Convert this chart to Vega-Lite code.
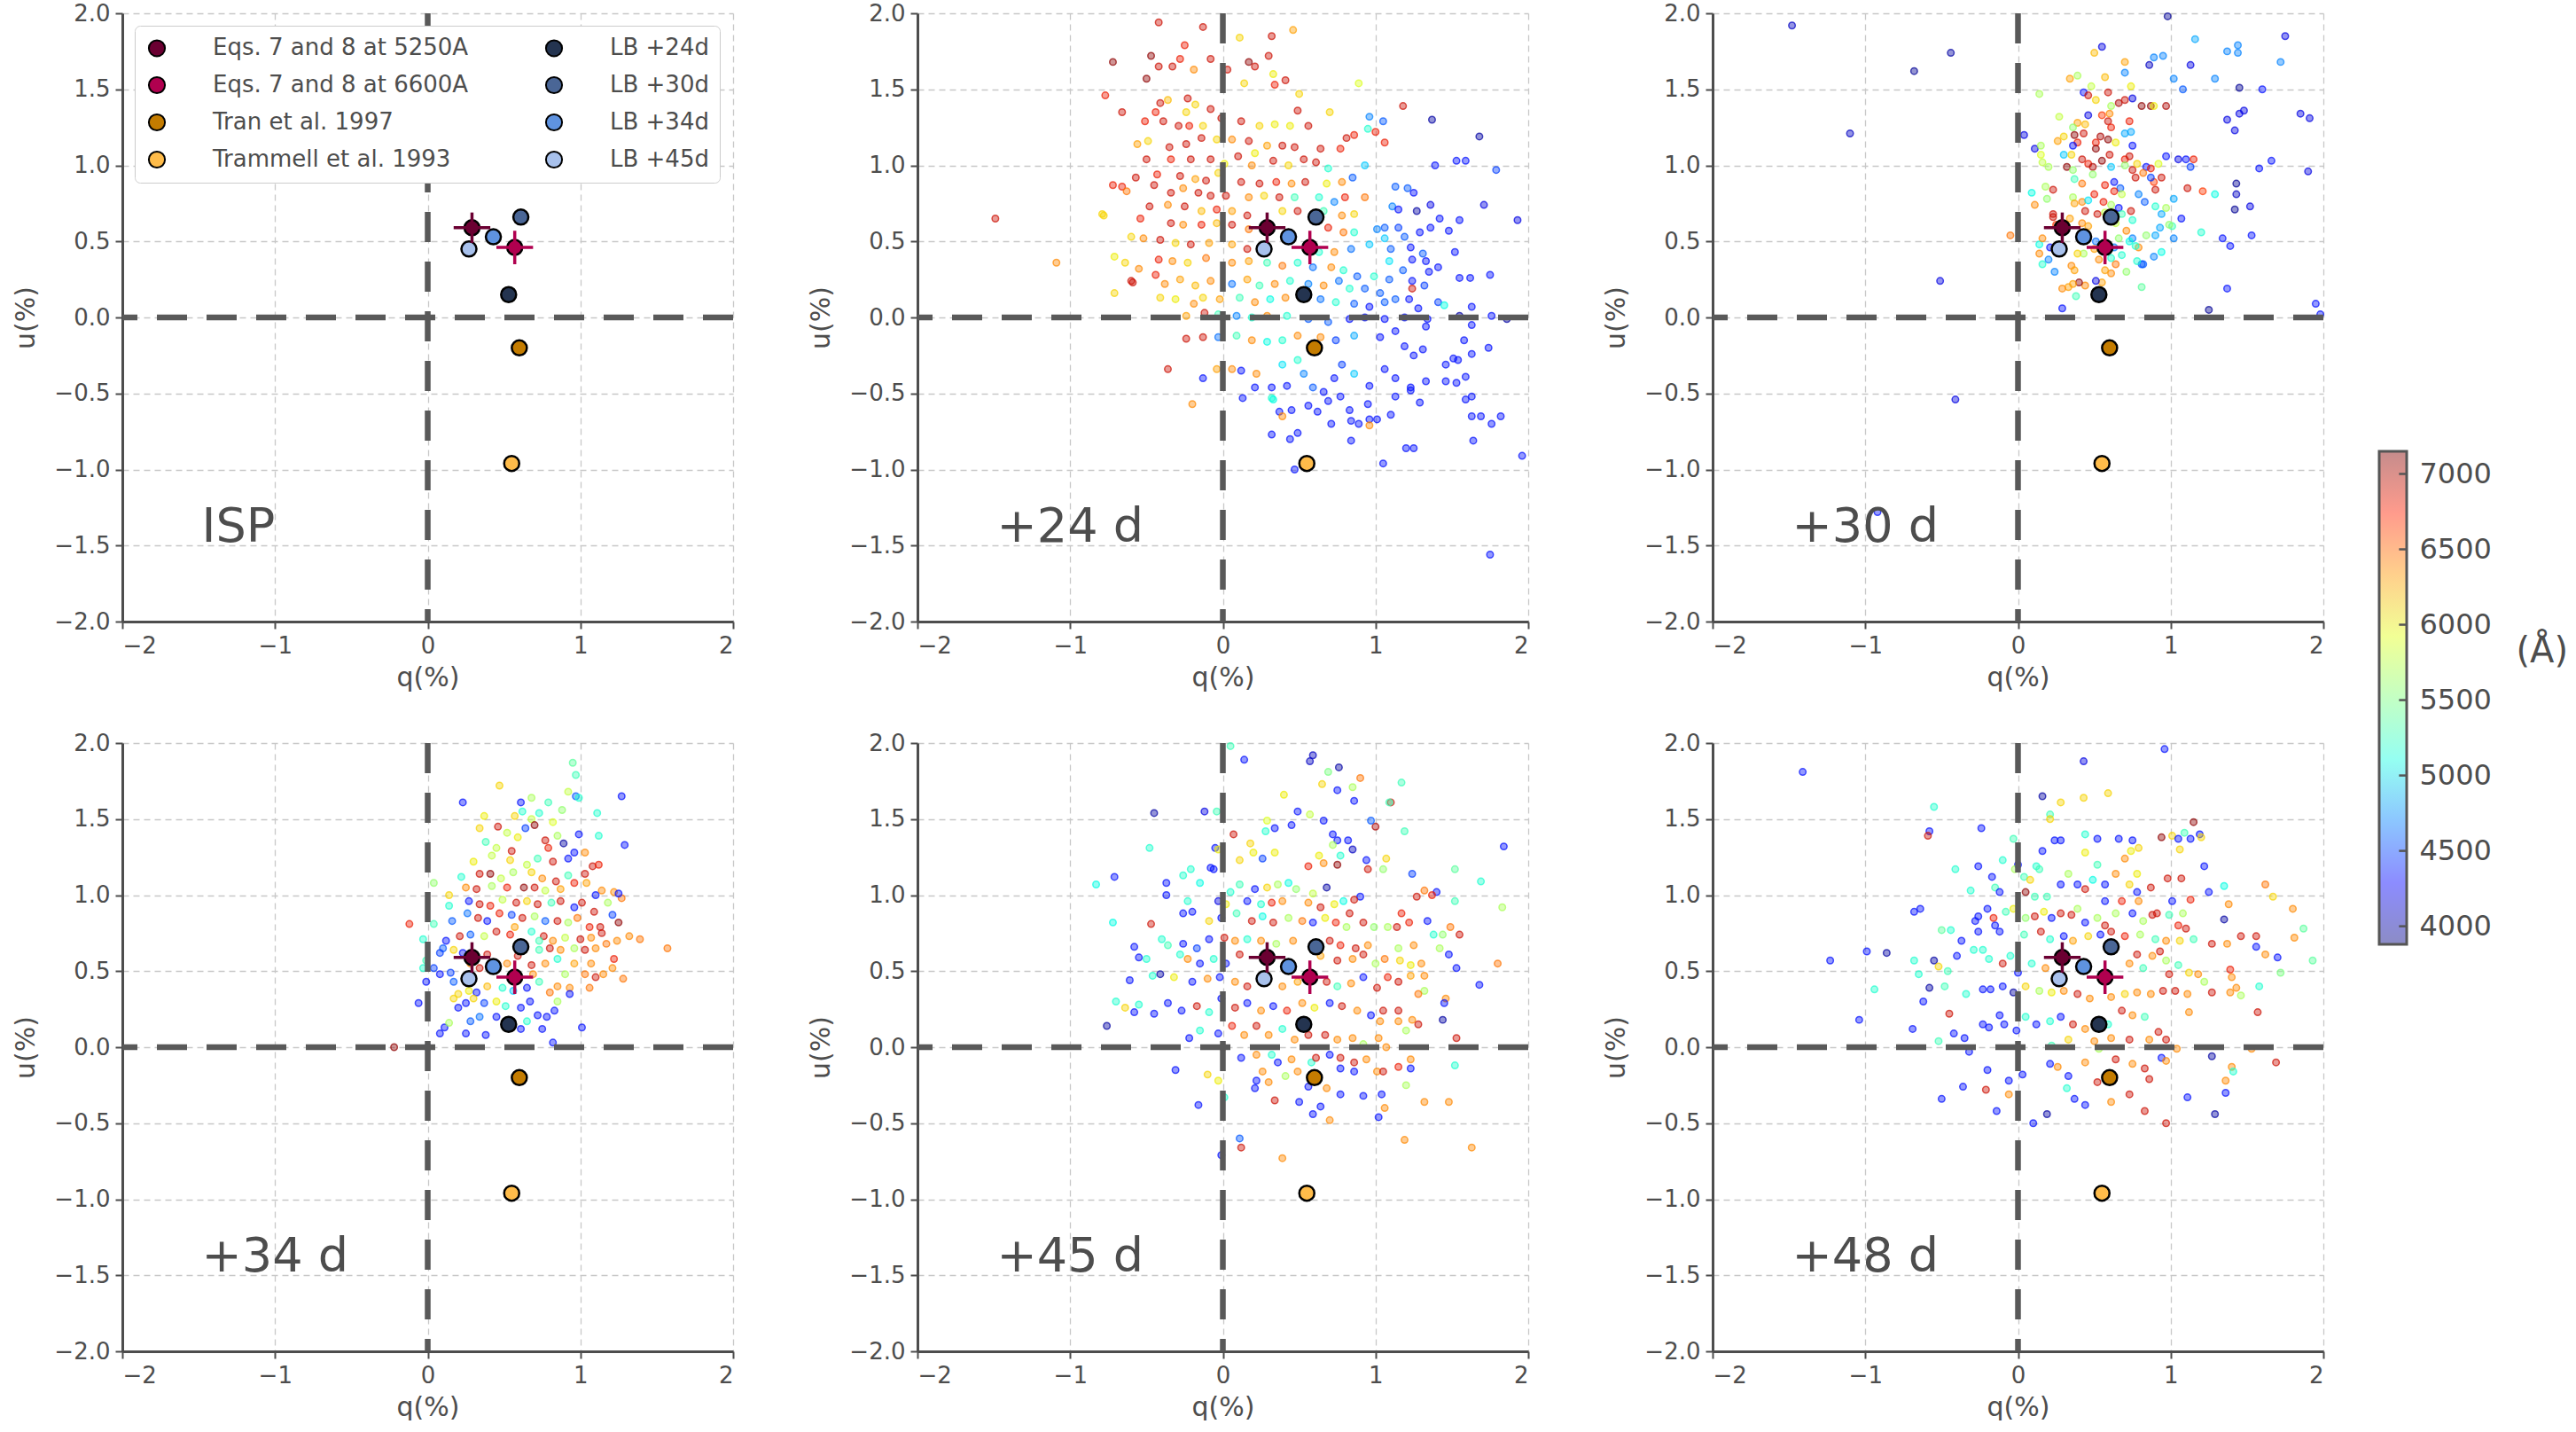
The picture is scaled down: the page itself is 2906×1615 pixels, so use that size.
{
  "$schema": "https://vega.github.io/schema/vega-lite/v6.json",
  "background": "white",
  "padding": {"left": 14, "top": 2, "right": 0, "bottom": 0},
  "config": {
    "font": "DejaVu Sans",
    "view": {"stroke": null},
    "axis": {
      "labelFont": "DejaVu Sans", "labelFontSize": 26, "labelColor": "#4d4d4d",
      "titleFont": "DejaVu Sans", "titleFontSize": 30, "titleFontWeight": "normal", "titleColor": "#4d4d4d",
      "domainColor": "#4d4d4d", "domainWidth": 3, "tickColor": "#4d4d4d", "tickWidth": 2, "tickSize": 8,
      "gridColor": "#c8c8c8", "gridDash": [7, 5], "gridWidth": 1.3, "labelPadding": 6
    },
    "axisX": {"titlePadding": 8},
    "axisY": {"titlePadding": 16},
    "legend": {"labelFont": "DejaVu Sans", "titleFont": "DejaVu Sans"}
  },
  "datasets": {
    "ref": [
      {"n": "Eqs. 7 and 8 at 5250A", "q": 0.29, "u": 0.59},
      {"n": "Eqs. 7 and 8 at 6600A", "q": 0.57, "u": 0.46},
      {"n": "Tran et al. 1997", "q": 0.60, "u": -0.20},
      {"n": "Trammell et al. 1993", "q": 0.55, "u": -0.96},
      {"n": "LB +24d", "q": 0.53, "u": 0.15},
      {"n": "LB +30d", "q": 0.61, "u": 0.66},
      {"n": "LB +34d", "q": 0.43, "u": 0.53},
      {"n": "LB +45d", "q": 0.27, "u": 0.45}
    ],
    "e5250": [
      {"x1": 0.17, "x2": 0.41, "y1": 0.59, "y2": 0.59},
      {"x1": 0.29, "x2": 0.29, "y1": 0.49, "y2": 0.69}
    ],
    "e6600": [
      {"x1": 0.45, "x2": 0.69, "y1": 0.46, "y2": 0.46},
      {"x1": 0.57, "x2": 0.57, "y1": 0.35, "y2": 0.57}
    ],
    "cbar": [{"lo": 3880, "hi": 7150}],
    "cticks": [{"w": 4000}, {"w": 4500}, {"w": 5000}, {"w": 5500}, {"w": 6000}, {"w": 6500}, {"w": 7000}],
    "d24": [
      {"q":-0.42,"u":1.94,"w":6900},{"q":-0.13,"u":1.91,"w":6900},{"q":0.46,"u":1.89,"w":6300},{"q":0.32,"u":1.85,"w":6900},{"q":0.11,"u":1.84,"w":6100},
      {"q":-0.25,"u":1.79,"w":6800},{"q":-0.47,"u":1.72,"w":7100},{"q":-0.72,"u":1.68,"w":7100},{"q":0.30,"u":1.72,"w":6900},{"q":-0.08,"u":1.70,"w":6900},
      {"q":0.17,"u":1.68,"w":7100},{"q":-0.42,"u":1.65,"w":6900},{"q":-0.33,"u":1.65,"w":6900},{"q":-0.28,"u":1.70,"w":6800},{"q":-0.19,"u":1.63,"w":6400},
      {"q":0.03,"u":1.63,"w":6900},{"q":0.21,"u":1.65,"w":6900},{"q":0.33,"u":1.60,"w":6000},{"q":0.41,"u":1.56,"w":6900},{"q":0.14,"u":1.54,"w":6100},
      {"q":0.34,"u":1.53,"w":6800},{"q":-0.50,"u":1.57,"w":7100},{"q":-0.77,"u":1.46,"w":6800},{"q":0.50,"u":1.47,"w":6100},{"q":0.89,"u":1.54,"w":5900},
      {"q":-0.23,"u":1.44,"w":6900},{"q":-0.36,"u":1.43,"w":6200},{"q":-0.41,"u":1.41,"w":6900},{"q":-0.66,"u":1.35,"w":6900},{"q":-0.44,"u":1.35,"w":6800},
      {"q":-0.24,"u":1.35,"w":6100},{"q":-0.18,"u":1.40,"w":6100},{"q":-0.08,"u":1.37,"w":6900},{"q":0.49,"u":1.36,"w":6900},{"q":0.70,"u":1.35,"w":6100},
      {"q":0.96,"u":1.32,"w":4700},{"q":1.05,"u":1.29,"w":4500},{"q":1.37,"u":1.30,"w":4000},{"q":1.18,"u":1.39,"w":6900},{"q":-0.51,"u":1.29,"w":6800},
      {"q":-0.39,"u":1.29,"w":6900},{"q":-0.29,"u":1.26,"w":6900},{"q":-0.22,"u":1.26,"w":6800},{"q":-0.13,"u":1.26,"w":6100},{"q":-0.01,"u":1.31,"w":6900},
      {"q":0.12,"u":1.29,"w":6900},{"q":0.24,"u":1.26,"w":6100},{"q":0.34,"u":1.27,"w":6000},{"q":0.44,"u":1.26,"w":6000},{"q":0.56,"u":1.26,"w":6900},
      {"q":0.95,"u":1.24,"w":5200},{"q":1.00,"u":1.22,"w":6800},{"q":0.86,"u":1.20,"w":6800},{"q":0.81,"u":1.18,"w":6900},{"q":1.06,"u":1.15,"w":6800},
      {"q":1.68,"u":1.19,"w":4000},{"q":-0.49,"u":1.16,"w":6100},{"q":-0.56,"u":1.14,"w":6300},{"q":-0.35,"u":1.12,"w":6900},{"q":-0.24,"u":1.14,"w":6900},
      {"q":-0.14,"u":1.18,"w":6900},{"q":-0.04,"u":1.17,"w":6100},{"q":0.06,"u":1.17,"w":6400},{"q":0.17,"u":1.16,"w":6900},{"q":0.21,"u":1.08,"w":6000},
      {"q":0.29,"u":1.13,"w":6300},{"q":0.39,"u":1.13,"w":6900},{"q":0.47,"u":1.12,"w":6900},{"q":0.64,"u":1.11,"w":6900},{"q":0.77,"u":1.11,"w":6800},
      {"q":-0.50,"u":1.04,"w":6900},{"q":-0.34,"u":1.04,"w":6800},{"q":-0.21,"u":1.04,"w":6900},{"q":-0.08,"u":1.04,"w":6900},{"q":0.01,"u":1.01,"w":6000},
      {"q":0.10,"u":1.06,"w":6900},{"q":0.19,"u":1.00,"w":6400},{"q":0.33,"u":1.03,"w":6900},{"q":0.43,"u":1.00,"w":6100},{"q":0.53,"u":1.04,"w":6900},
      {"q":0.61,"u":1.02,"w":6900},{"q":0.69,"u":0.98,"w":5200},{"q":0.93,"u":1.00,"w":4900},{"q":0.85,"u":0.92,"w":4500},{"q":1.39,"u":1.00,"w":4300},
      {"q":1.53,"u":1.03,"w":4300},{"q":1.59,"u":1.03,"w":4300},{"q":1.79,"u":0.97,"w":4400},{"q":-0.57,"u":0.92,"w":6900},{"q":-0.43,"u":0.94,"w":6800},
      {"q":-0.28,"u":0.93,"w":6900},{"q":-0.18,"u":0.91,"w":6300},{"q":-0.11,"u":0.90,"w":6900},{"q":-0.03,"u":0.95,"w":6100},{"q":0.12,"u":0.89,"w":6900},
      {"q":0.24,"u":0.88,"w":6900},{"q":0.35,"u":0.89,"w":6800},{"q":0.45,"u":0.88,"w":6400},{"q":0.54,"u":0.89,"w":6900},{"q":0.68,"u":0.88,"w":6000},
      {"q":0.78,"u":0.89,"w":6400},{"q":-0.66,"u":0.86,"w":6800},{"q":-0.72,"u":0.87,"w":6800},{"q":-0.63,"u":0.83,"w":6500},{"q":-0.45,"u":0.87,"w":6900},
      {"q":-0.34,"u":0.82,"w":6900},{"q":-0.26,"u":0.85,"w":6400},{"q":-0.16,"u":0.82,"w":6900},{"q":-0.08,"u":0.80,"w":6900},{"q":0.02,"u":0.80,"w":6900},
      {"q":0.17,"u":0.79,"w":6400},{"q":0.27,"u":0.80,"w":6100},{"q":0.37,"u":0.79,"w":6900},{"q":0.47,"u":0.79,"w":5300},{"q":0.63,"u":0.79,"w":5200},
      {"q":0.73,"u":0.76,"w":4700},{"q":0.80,"u":0.79,"w":6800},{"q":0.93,"u":0.79,"w":6500},{"q":1.13,"u":0.86,"w":4500},{"q":1.21,"u":0.85,"w":4500},
      {"q":1.25,"u":0.82,"w":4300},{"q":1.36,"u":0.74,"w":4200},{"q":1.71,"u":0.74,"w":4200},{"q":1.11,"u":0.73,"w":4700},{"q":1.15,"u":0.71,"w":4300},
      {"q":1.27,"u":0.70,"w":4000},{"q":1.42,"u":0.65,"w":4300},{"q":1.55,"u":0.64,"w":4300},{"q":1.93,"u":0.64,"w":4200},{"q":-0.48,"u":0.73,"w":6900},
      {"q":-0.36,"u":0.74,"w":6400},{"q":-0.25,"u":0.73,"w":6900},{"q":-0.14,"u":0.70,"w":6200},{"q":-0.04,"u":0.71,"w":6800},{"q":0.06,"u":0.70,"w":6300},
      {"q":0.16,"u":0.67,"w":6900},{"q":0.39,"u":0.70,"w":6100},{"q":0.49,"u":0.70,"w":6900},{"q":0.66,"u":0.70,"w":5300},{"q":0.78,"u":0.67,"w":6400},
      {"q":0.86,"u":0.68,"w":6100},{"q":-0.78,"u":0.67,"w":6100},{"q":-0.54,"u":0.65,"w":6800},{"q":-0.34,"u":0.62,"w":6900},{"q":-0.26,"u":0.61,"w":6400},
      {"q":-0.14,"u":0.61,"w":6800},{"q":-0.04,"u":0.62,"w":6200},{"q":0.06,"u":0.61,"w":6900},{"q":0.17,"u":0.58,"w":6500},{"q":0.69,"u":0.59,"w":6800},
      {"q":0.79,"u":0.56,"w":6500},{"q":0.86,"u":0.56,"w":5200},{"q":1.01,"u":0.58,"w":4700},{"q":1.06,"u":0.59,"w":4500},{"q":1.15,"u":0.59,"w":4400},
      {"q":1.29,"u":0.56,"w":4300},{"q":1.19,"u":0.53,"w":4500},{"q":1.36,"u":0.59,"w":4300},{"q":1.48,"u":0.57,"w":4300},{"q":1.06,"u":0.52,"w":4900},
      {"q":-0.60,"u":0.53,"w":6100},{"q":-0.52,"u":0.52,"w":6400},{"q":-0.41,"u":0.51,"w":6900},{"q":-0.31,"u":0.49,"w":6100},{"q":-0.21,"u":0.48,"w":6900},
      {"q":-0.09,"u":0.49,"w":6300},{"q":0.06,"u":0.48,"w":6300},{"q":0.16,"u":0.45,"w":6900},{"q":0.63,"u":0.43,"w":5200},{"q":0.73,"u":0.43,"w":6400},
      {"q":0.84,"u":0.45,"w":4600},{"q":0.96,"u":0.48,"w":4900},{"q":1.10,"u":0.45,"w":4500},{"q":1.23,"u":0.46,"w":4300},{"q":1.31,"u":0.42,"w":4500},
      {"q":1.33,"u":0.37,"w":4300},{"q":1.24,"u":0.38,"w":4300},{"q":1.09,"u":0.37,"w":5000},{"q":1.18,"u":0.31,"w":4500},{"q":1.52,"u":0.43,"w":4300},
      {"q":1.55,"u":0.26,"w":4300},{"q":1.62,"u":0.26,"w":4300},{"q":1.75,"u":0.28,"w":4300},{"q":1.41,"u":0.33,"w":4300},{"q":1.35,"u":0.30,"w":4300},
      {"q":-0.71,"u":0.40,"w":6000},{"q":-0.64,"u":0.36,"w":6100},{"q":-0.55,"u":0.32,"w":6400},{"q":-0.42,"u":0.38,"w":6800},{"q":-0.33,"u":0.37,"w":6400},
      {"q":-0.23,"u":0.36,"w":6100},{"q":-0.11,"u":0.39,"w":6500},{"q":0.06,"u":0.36,"w":6400},{"q":0.17,"u":0.37,"w":6300},{"q":0.29,"u":0.36,"w":5300},
      {"q":0.39,"u":0.34,"w":6500},{"q":0.49,"u":0.36,"w":5200},{"q":0.59,"u":0.33,"w":4600},{"q":0.71,"u":0.33,"w":6400},{"q":0.79,"u":0.31,"w":5200},
      {"q":0.88,"u":0.27,"w":4500},{"q":0.99,"u":0.27,"w":5200},{"q":1.09,"u":0.25,"w":4500},{"q":1.24,"u":0.24,"w":4300},{"q":1.32,"u":0.21,"w":4400},
      {"q":-0.60,"u":0.24,"w":6900},{"q":-0.44,"u":0.28,"w":6800},{"q":-0.38,"u":0.22,"w":6400},{"q":-0.28,"u":0.25,"w":6300},{"q":-0.18,"u":0.21,"w":6200},
      {"q":-0.08,"u":0.24,"w":6400},{"q":0.06,"u":0.22,"w":4600},{"q":0.16,"u":0.25,"w":6300},{"q":0.24,"u":0.21,"w":5300},{"q":0.34,"u":0.22,"w":6400},
      {"q":0.44,"u":0.24,"w":5200},{"q":0.56,"u":0.22,"w":4700},{"q":0.66,"u":0.21,"w":6400},{"q":0.76,"u":0.24,"w":4600},{"q":0.83,"u":0.19,"w":5200},
      {"q":0.93,"u":0.19,"w":4500},{"q":1.03,"u":0.16,"w":4500},{"q":1.13,"u":0.12,"w":4500},{"q":1.22,"u":0.12,"w":4300},{"q":1.41,"u":0.10,"w":4400},
      {"q":1.45,"u":0.08,"w":5100},{"q":1.63,"u":0.07,"w":4300},{"q":1.28,"u":0.06,"w":4300},{"q":1.06,"u":0.10,"w":4500},{"q":-0.41,"u":0.13,"w":6100},
      {"q":-0.31,"u":0.12,"w":6000},{"q":-0.19,"u":0.09,"w":6400},{"q":-0.13,"u":0.13,"w":6100},{"q":-0.02,"u":0.12,"w":6300},{"q":0.11,"u":0.13,"w":5300},
      {"q":0.21,"u":0.10,"w":6400},{"q":0.31,"u":0.12,"w":5100},{"q":0.41,"u":0.13,"w":6400},{"q":0.64,"u":0.12,"w":4600},{"q":0.74,"u":0.10,"w":5200},
      {"q":0.86,"u":0.09,"w":4500},{"q":0.96,"u":0.07,"w":4300},{"q":-0.24,"u":0.01,"w":6300},{"q":-0.12,"u":0.03,"w":6900},{"q":-0.03,"u":0.02,"w":5300},
      {"q":0.09,"u":0.01,"w":4700},{"q":0.19,"u":0.00,"w":5200},{"q":0.29,"u":0.01,"w":6400},{"q":0.42,"u":0.01,"w":5200},{"q":0.56,"u":-0.01,"w":4500},
      {"q":0.69,"u":-0.03,"w":4500},{"q":0.83,"u":-0.01,"w":4300},{"q":0.93,"u":0.00,"w":4300},{"q":1.06,"u":-0.01,"w":4300},{"q":1.19,"u":0.00,"w":4300},
      {"q":1.34,"u":-0.01,"w":4300},{"q":1.55,"u":0.01,"w":4000},{"q":1.76,"u":0.01,"w":4300},{"q":1.86,"u":-0.01,"w":4000},{"q":1.63,"u":-0.05,"w":4300},
      {"q":1.33,"u":-0.06,"w":4300},{"q":1.13,"u":-0.09,"w":4300},{"q":1.03,"u":-0.13,"w":4300},{"q":0.86,"u":-0.12,"w":4800},{"q":0.74,"u":-0.15,"w":4400},
      {"q":0.64,"u":-0.13,"w":6400},{"q":0.49,"u":-0.12,"w":6400},{"q":0.39,"u":-0.15,"w":5200},{"q":0.29,"u":-0.16,"w":5100},{"q":0.19,"u":-0.15,"w":6400},
      {"q":0.09,"u":-0.12,"w":5300},{"q":-0.03,"u":-0.13,"w":4600},{"q":-0.13,"u":-0.13,"w":6900},{"q":-0.24,"u":-0.14,"w":6900},{"q":1.19,"u":-0.19,"w":4300},
      {"q":1.31,"u":-0.21,"w":4300},{"q":1.25,"u":-0.25,"w":4300},{"q":1.58,"u":-0.15,"w":4300},{"q":1.74,"u":-0.20,"w":4300},{"q":1.51,"u":-0.27,"w":4300},
      {"q":1.46,"u":-0.31,"w":4300},{"q":1.54,"u":-0.28,"w":4300},{"q":1.63,"u":-0.24,"w":4300},{"q":1.59,"u":-0.39,"w":4300},{"q":1.53,"u":-0.43,"w":4300},
      {"q":1.46,"u":-0.42,"w":4300},{"q":1.33,"u":-0.42,"w":4300},{"q":1.23,"u":-0.46,"w":4300},{"q":1.13,"u":-0.40,"w":4300},{"q":1.06,"u":-0.34,"w":4300},
      {"q":0.96,"u":-0.45,"w":4300},{"q":0.86,"u":-0.37,"w":4900},{"q":0.78,"u":-0.31,"w":4400},{"q":0.73,"u":-0.40,"w":4300},{"q":0.66,"u":-0.49,"w":4300},
      {"q":0.59,"u":-0.46,"w":4500},{"q":0.53,"u":-0.37,"w":4700},{"q":0.49,"u":-0.28,"w":5200},{"q":0.39,"u":-0.31,"w":5000},{"q":0.32,"u":-0.46,"w":4300},
      {"q":0.42,"u":-0.45,"w":4300},{"q":0.22,"u":-0.37,"w":6400},{"q":0.12,"u":-0.35,"w":4300},{"q":0.06,"u":-0.34,"w":6400},{"q":-0.04,"u":-0.34,"w":6300},
      {"q":-0.13,"u":-0.40,"w":4300},{"q":-0.20,"u":-0.57,"w":6400},{"q":-0.36,"u":-0.34,"w":6900},{"q":0.13,"u":-0.53,"w":4300},{"q":0.21,"u":-0.46,"w":4300},
      {"q":0.32,"u":-0.53,"w":5200},{"q":0.37,"u":-0.62,"w":4300},{"q":0.45,"u":-0.61,"w":4300},{"q":0.56,"u":-0.58,"w":4300},{"q":0.62,"u":-0.62,"w":4300},
      {"q":0.69,"u":-0.55,"w":4300},{"q":0.77,"u":-0.52,"w":4300},{"q":0.83,"u":-0.61,"w":4300},{"q":0.84,"u":-0.68,"w":4300},{"q":0.89,"u":-0.70,"w":4300},
      {"q":0.95,"u":-0.57,"w":4300},{"q":0.96,"u":-0.67,"w":4300},{"q":1.01,"u":-0.67,"w":4300},{"q":1.10,"u":-0.64,"w":4300},{"q":1.13,"u":-0.52,"w":4300},
      {"q":1.23,"u":-0.48,"w":4300},{"q":1.29,"u":-0.56,"w":4300},{"q":1.63,"u":-0.52,"w":4300},{"q":1.59,"u":-0.54,"w":4300},{"q":1.63,"u":-0.65,"w":4300},
      {"q":1.69,"u":-0.65,"w":4300},{"q":1.76,"u":-0.70,"w":4300},{"q":1.82,"u":-0.65,"w":4300},{"q":1.64,"u":-0.81,"w":4300},{"q":1.25,"u":-0.86,"w":4300},
      {"q":1.20,"u":-0.86,"w":4300},{"q":1.05,"u":-0.96,"w":4300},{"q":0.84,"u":-0.81,"w":4300},{"q":0.71,"u":-0.70,"w":4300},{"q":0.96,"u":-0.71,"w":6400},
      {"q":0.44,"u":-0.80,"w":4300},{"q":0.49,"u":-0.76,"w":4300},{"q":0.32,"u":-0.77,"w":4300},{"q":0.33,"u":-0.54,"w":5100},{"q":0.39,"u":-0.65,"w":6400},
      {"q":0.47,"u":-1.00,"w":4300},{"q":1.96,"u":-0.91,"w":4300},{"q":1.75,"u":-1.56,"w":4300},{"q":-1.49,"u":0.65,"w":6900},{"q":-1.09,"u":0.36,"w":6400},
      {"q":-0.79,"u":0.68,"w":6100},{"q":-0.71,"u":0.16,"w":6100},{"q":-0.59,"u":0.23,"w":6900},{"q":1.24,"u":0.19,"w":6900}
    ],
    "d30": [
      {"q":-1.48,"u":1.92,"w":4100},{"q":-0.44,"u":1.74,"w":4000},{"q":-0.68,"u":1.62,"w":3950},{"q":-1.10,"u":1.21,"w":4100},{"q":-0.51,"u":0.24,"w":4200},
      {"q":-0.41,"u":-0.54,"w":4200},{"q":-0.92,"u":-1.28,"w":4300},{"q":0.04,"u":1.20,"w":4200},{"q":0.11,"u":1.11,"w":4200},{"q":0.98,"u":1.98,"w":3950},
      {"q":0.55,"u":1.78,"w":4200},{"q":0.86,"u":1.66,"w":4100},{"q":0.95,"u":1.72,"w":4700},{"q":0.89,"u":1.71,"w":4700},{"q":1.16,"u":1.83,"w":4800},
      {"q":1.13,"u":1.66,"w":4200},{"q":1.37,"u":1.75,"w":4700},{"q":1.44,"u":1.79,"w":4700},{"q":1.44,"u":1.74,"w":4700},{"q":1.75,"u":1.85,"w":4200},
      {"q":1.72,"u":1.68,"w":4700},{"q":1.02,"u":1.57,"w":4700},{"q":1.08,"u":1.50,"w":4500},{"q":1.29,"u":1.57,"w":4700},{"q":1.45,"u":1.51,"w":3950},
      {"q":1.60,"u":1.50,"w":4300},{"q":1.45,"u":1.34,"w":4200},{"q":1.48,"u":1.36,"w":4200},{"q":1.37,"u":1.30,"w":4200},{"q":1.42,"u":1.23,"w":4200},
      {"q":1.85,"u":1.34,"w":4200},{"q":1.91,"u":1.31,"w":4200},{"q":1.66,"u":1.03,"w":4300},{"q":1.58,"u":0.98,"w":4300},{"q":1.90,"u":0.96,"w":4200},
      {"q":1.05,"u":1.04,"w":4200},{"q":1.10,"u":1.04,"w":4300},{"q":1.13,"u":0.99,"w":4400},{"q":0.97,"u":1.06,"w":4300},{"q":1.43,"u":0.88,"w":3950},
      {"q":1.43,"u":0.81,"w":4100},{"q":1.42,"u":0.71,"w":3950},{"q":1.52,"u":0.73,"w":4200},{"q":1.07,"u":0.65,"w":4300},{"q":1.02,"u":0.78,"w":4800},
      {"q":1.29,"u":0.81,"w":5100},{"q":1.21,"u":0.83,"w":6700},{"q":1.11,"u":0.85,"w":6900},{"q":1.15,"u":1.04,"w":6800},{"q":1.20,"u":0.56,"w":5200},
      {"q":1.34,"u":0.52,"w":4300},{"q":1.39,"u":0.47,"w":4300},{"q":1.53,"u":0.54,"w":4300},{"q":1.37,"u":0.19,"w":4300},{"q":1.25,"u":0.05,"w":3950},
      {"q":1.95,"u":0.09,"w":4300},{"q":1.98,"u":0.02,"w":4300},{"q":0.29,"u":0.06,"w":4300},{"q":0.81,"u":0.20,"w":5400},{"q":1.02,"u":0.52,"w":4700},
      {"q":1.01,"u":0.60,"w":5300},{"q":0.94,"u":0.43,"w":5100},{"q":0.81,"u":0.35,"w":4500},{"q":0.14,"u":1.47,"w":5700},{"q":0.27,"u":1.32,"w":5800},
      {"q":0.39,"u":1.59,"w":5700},{"q":0.34,"u":1.57,"w":6300},{"q":0.50,"u":1.74,"w":6200},{"q":0.70,"u":1.68,"w":6300},{"q":0.70,"u":1.61,"w":4700},
      {"q":0.57,"u":1.58,"w":6200},{"q":0.48,"u":1.52,"w":5800},{"q":0.43,"u":1.48,"w":4300},{"q":0.46,"u":1.46,"w":6900},{"q":0.51,"u":1.43,"w":6100},
      {"q":0.59,"u":1.48,"w":6900},{"q":0.61,"u":1.39,"w":5700},{"q":0.66,"u":1.41,"w":7000},{"q":0.70,"u":1.43,"w":6900},{"q":0.74,"u":1.52,"w":6000},
      {"q":0.75,"u":1.44,"w":4200},{"q":0.81,"u":1.39,"w":7100},{"q":0.87,"u":1.39,"w":7100},{"q":0.97,"u":1.39,"w":7000},{"q":0.89,"u":1.39,"w":6000},
      {"q":0.46,"u":1.33,"w":4200},{"q":0.55,"u":1.33,"w":6700},{"q":0.60,"u":1.34,"w":6400},{"q":0.44,"u":1.27,"w":6200},{"q":0.39,"u":1.28,"w":6300},
      {"q":0.36,"u":1.25,"w":5600},{"q":0.59,"u":1.29,"w":6900},{"q":0.61,"u":1.25,"w":6800},{"q":0.73,"u":1.29,"w":6800},{"q":0.70,"u":1.21,"w":4800},
      {"q":0.74,"u":1.22,"w":4800},{"q":0.37,"u":1.20,"w":7100},{"q":0.43,"u":1.21,"w":6900},{"q":0.30,"u":1.19,"w":6100},{"q":0.26,"u":1.16,"w":6300},
      {"q":0.39,"u":1.15,"w":6800},{"q":0.36,"u":1.13,"w":4300},{"q":0.15,"u":1.13,"w":5700},{"q":0.54,"u":1.19,"w":7000},{"q":0.59,"u":1.17,"w":7100},
      {"q":0.51,"u":1.15,"w":6800},{"q":0.51,"u":1.11,"w":7100},{"q":0.75,"u":1.13,"w":4300},{"q":0.64,"u":1.15,"w":6000},{"q":0.15,"u":1.07,"w":5900},
      {"q":0.16,"u":1.02,"w":5800},{"q":0.20,"u":0.99,"w":5700},{"q":0.30,"u":1.07,"w":4900},{"q":0.35,"u":1.07,"w":6100},{"q":0.42,"u":1.04,"w":6900},
      {"q":0.46,"u":1.01,"w":6800},{"q":0.49,"u":0.99,"w":7000},{"q":0.55,"u":1.03,"w":7100},{"q":0.60,"u":1.07,"w":6900},{"q":0.61,"u":0.99,"w":4900},
      {"q":0.70,"u":1.04,"w":6800},{"q":0.73,"u":1.06,"w":6900},{"q":0.70,"u":1.00,"w":5600},{"q":0.78,"u":1.01,"w":6100},{"q":0.84,"u":0.99,"w":4300},
      {"q":0.87,"u":0.98,"w":6800},{"q":0.92,"u":1.01,"w":5900},{"q":0.94,"u":0.92,"w":6900},{"q":0.90,"u":0.84,"w":6900},{"q":0.89,"u":0.89,"w":6700},
      {"q":0.87,"u":0.92,"w":4400},{"q":0.77,"u":0.92,"w":6900},{"q":0.75,"u":0.97,"w":6900},{"q":0.82,"u":0.95,"w":6500},{"q":0.32,"u":0.99,"w":7100},
      {"q":0.36,"u":0.97,"w":5600},{"q":0.37,"u":0.91,"w":5300},{"q":0.42,"u":0.88,"w":6500},{"q":0.18,"u":0.86,"w":5700},{"q":0.09,"u":0.82,"w":5100},
      {"q":0.19,"u":0.78,"w":5600},{"q":0.23,"u":0.84,"w":6900},{"q":0.49,"u":0.94,"w":5600},{"q":0.57,"u":0.87,"w":6800},{"q":0.63,"u":0.89,"w":4300},
      {"q":0.67,"u":0.85,"w":4500},{"q":0.68,"u":0.81,"w":5800},{"q":0.79,"u":0.81,"w":4700},{"q":0.83,"u":0.76,"w":4500},{"q":0.63,"u":0.83,"w":6800},
      {"q":0.50,"u":0.81,"w":6800},{"q":0.36,"u":0.79,"w":5700},{"q":0.42,"u":0.76,"w":6400},{"q":0.37,"u":0.75,"w":6300},{"q":0.46,"u":0.77,"w":5000},
      {"q":0.44,"u":0.70,"w":6900},{"q":0.56,"u":0.76,"w":6800},{"q":0.61,"u":0.74,"w":5700},{"q":0.66,"u":0.72,"w":4300},{"q":0.74,"u":0.70,"w":6900},
      {"q":0.68,"u":0.68,"w":5300},{"q":0.75,"u":0.64,"w":5200},{"q":0.71,"u":0.57,"w":6400},{"q":0.75,"u":0.52,"w":4700},{"q":0.79,"u":0.46,"w":6400},
      {"q":0.90,"u":0.54,"w":4800},{"q":0.84,"u":0.54,"w":5600},{"q":0.93,"u":0.59,"w":4800},{"q":0.90,"u":0.73,"w":5200},{"q":0.94,"u":0.68,"w":4800},
      {"q":0.97,"u":0.72,"w":5700},{"q":0.99,"u":0.61,"w":5600},{"q":0.89,"u":0.40,"w":4700},{"q":0.82,"u":0.35,"w":4500},{"q":0.78,"u":0.37,"w":5200},
      {"q":0.71,"u":0.30,"w":5600},{"q":0.68,"u":0.41,"w":5200},{"q":0.64,"u":0.35,"w":6500},{"q":0.61,"u":0.29,"w":6400},{"q":0.57,"u":0.31,"w":6300},
      {"q":0.55,"u":0.23,"w":6300},{"q":0.51,"u":0.24,"w":4200},{"q":0.44,"u":0.21,"w":6400},{"q":0.40,"u":0.23,"w":7100},{"q":0.36,"u":0.22,"w":6300},
      {"q":0.33,"u":0.20,"w":6300},{"q":0.29,"u":0.19,"w":6400},{"q":0.38,"u":0.14,"w":5300},{"q":0.35,"u":0.34,"w":6400},{"q":0.37,"u":0.31,"w":6300},
      {"q":0.24,"u":0.30,"w":4700},{"q":0.16,"u":0.35,"w":5200},{"q":0.20,"u":0.38,"w":4700},{"q":0.14,"u":0.42,"w":6400},{"q":0.14,"u":0.48,"w":5100},
      {"q":0.16,"u":0.52,"w":6400},{"q":-0.05,"u":0.54,"w":6500},{"q":0.11,"u":0.74,"w":6400},{"q":0.23,"u":0.66,"w":6900},{"q":0.23,"u":0.68,"w":6900},
      {"q":0.25,"u":0.61,"w":6700},{"q":0.34,"u":0.65,"w":6300},{"q":0.42,"u":0.62,"w":6400},{"q":0.46,"u":0.60,"w":6300},{"q":0.51,"u":0.50,"w":4600},
      {"q":0.50,"u":0.45,"w":6300},{"q":0.43,"u":0.42,"w":5700},{"q":0.39,"u":0.42,"w":6100},{"q":0.53,"u":0.38,"w":6400},{"q":0.61,"u":0.39,"w":5200},
      {"q":0.66,"u":0.52,"w":5600},{"q":0.63,"u":0.46,"w":4700},{"q":0.21,"u":0.46,"w":4300},{"q":0.64,"u":0.62,"w":5800},{"q":0.57,"u":0.69,"w":5800},
      {"q":0.52,"u":0.68,"w":6900},{"q":0.73,"u":0.50,"w":5100},{"q":0.77,"u":0.47,"w":5200}
    ],
    "d34": [
      {"q":0.95,"u":1.87,"w":5400},{"q":0.97,"u":1.79,"w":5300},{"q":0.47,"u":1.72,"w":6100},{"q":0.68,"u":1.64,"w":5700},{"q":0.61,"u":1.61,"w":4300},
      {"q":0.23,"u":1.61,"w":4300},{"q":0.79,"u":1.61,"w":5300},{"q":0.97,"u":1.65,"w":4500},{"q":0.99,"u":1.64,"w":5200},{"q":1.27,"u":1.65,"w":4300},
      {"q":0.92,"u":1.68,"w":5800},{"q":0.88,"u":1.56,"w":5600},{"q":1.11,"u":1.54,"w":5200},{"q":0.73,"u":1.54,"w":5200},{"q":0.62,"u":1.55,"w":5200},
      {"q":0.37,"u":1.52,"w":6000},{"q":0.57,"u":1.52,"w":6100},{"q":0.68,"u":1.50,"w":5800},{"q":0.82,"u":1.48,"w":5900},{"q":0.34,"u":1.44,"w":6100},
      {"q":0.46,"u":1.45,"w":6900},{"q":0.70,"u":1.46,"w":7100},{"q":0.64,"u":1.44,"w":4400},{"q":0.52,"u":1.41,"w":5800},{"q":0.59,"u":1.38,"w":6000},
      {"q":1.12,"u":1.39,"w":5200},{"q":0.99,"u":1.40,"w":4300},{"q":1.29,"u":1.33,"w":4300},{"q":0.85,"u":1.39,"w":5700},{"q":0.38,"u":1.35,"w":5300},
      {"q":0.45,"u":1.31,"w":5800},{"q":0.77,"u":1.36,"w":6900},{"q":0.79,"u":1.31,"w":6800},{"q":0.89,"u":1.34,"w":4000},{"q":0.96,"u":1.28,"w":4300},
      {"q":1.03,"u":1.28,"w":6400},{"q":0.92,"u":1.24,"w":4300},{"q":0.82,"u":1.22,"w":6900},{"q":0.55,"u":1.29,"w":6900},{"q":0.42,"u":1.26,"w":5800},
      {"q":0.30,"u":1.22,"w":6000},{"q":0.54,"u":1.23,"w":6100},{"q":0.65,"u":1.20,"w":5800},{"q":0.72,"u":1.24,"w":5300},{"q":1.08,"u":1.19,"w":6900},
      {"q":1.12,"u":1.20,"w":6800},{"q":1.03,"u":1.14,"w":6900},{"q":0.22,"u":1.12,"w":5200},{"q":0.34,"u":1.14,"w":6900},{"q":0.41,"u":1.14,"w":7100},
      {"q":0.48,"u":1.11,"w":5800},{"q":0.56,"u":1.15,"w":5700},{"q":0.68,"u":1.15,"w":6100},{"q":0.75,"u":1.11,"w":6400},{"q":0.84,"u":1.09,"w":6900},
      {"q":0.92,"u":1.13,"w":5300},{"q":0.96,"u":1.08,"w":6800},{"q":1.04,"u":1.08,"w":6300},{"q":0.04,"u":1.08,"w":5600},{"q":0.25,"u":1.05,"w":6400},
      {"q":0.32,"u":1.04,"w":6900},{"q":0.42,"u":1.06,"w":5700},{"q":0.52,"u":1.05,"w":6800},{"q":0.63,"u":1.05,"w":7100},{"q":0.70,"u":1.05,"w":6900},
      {"q":0.77,"u":1.03,"w":5800},{"q":0.87,"u":1.04,"w":6300},{"q":1.14,"u":1.03,"w":6400},{"q":1.22,"u":1.02,"w":6400},{"q":1.27,"u":0.98,"w":6500},
      {"q":1.25,"u":1.01,"w":4300},{"q":1.10,"u":1.00,"w":4300},{"q":0.14,"u":1.00,"w":6100},{"q":0.14,"u":0.93,"w":5200},{"q":0.27,"u":0.96,"w":4300},
      {"q":0.34,"u":0.94,"w":6900},{"q":0.41,"u":0.93,"w":6800},{"q":0.49,"u":0.97,"w":5800},{"q":0.58,"u":0.95,"w":6900},{"q":0.65,"u":0.96,"w":6100},
      {"q":0.72,"u":0.94,"w":6900},{"q":0.81,"u":0.95,"w":5300},{"q":0.87,"u":0.96,"w":6900},{"q":0.96,"u":0.92,"w":4300},{"q":1.01,"u":0.95,"w":6900},
      {"q":1.18,"u":0.95,"w":5700},{"q":1.21,"u":0.87,"w":4400},{"q":1.09,"u":0.89,"w":6900},{"q":1.25,"u":0.82,"w":7100},{"q":0.16,"u":0.83,"w":4500},
      {"q":0.26,"u":0.88,"w":4600},{"q":0.33,"u":0.85,"w":6900},{"q":0.39,"u":0.83,"w":4300},{"q":0.47,"u":0.88,"w":6800},{"q":0.55,"u":0.87,"w":4400},
      {"q":0.62,"u":0.85,"w":6900},{"q":0.70,"u":0.86,"w":5700},{"q":0.77,"u":0.83,"w":4500},{"q":0.85,"u":0.83,"w":6900},{"q":0.92,"u":0.82,"w":5700},
      {"q":0.98,"u":0.85,"w":6500},{"q":1.06,"u":0.79,"w":6800},{"q":1.13,"u":0.79,"w":6900},{"q":-0.12,"u":0.81,"w":6800},{"q":0.04,"u":0.81,"w":5300},
      {"q":-0.03,"u":0.71,"w":5200},{"q":0.21,"u":0.73,"w":6900},{"q":0.28,"u":0.74,"w":4500},{"q":0.37,"u":0.73,"w":5800},{"q":0.45,"u":0.76,"w":6900},
      {"q":0.54,"u":0.74,"w":6800},{"q":0.68,"u":0.76,"w":5200},{"q":0.76,"u":0.73,"w":6900},{"q":0.82,"u":0.70,"w":6400},{"q":0.90,"u":0.72,"w":5800},
      {"q":1.00,"u":0.71,"w":6900},{"q":1.07,"u":0.72,"w":6400},{"q":1.14,"u":0.75,"w":6900},{"q":1.24,"u":0.70,"w":6400},{"q":1.32,"u":0.73,"w":6400},
      {"q":1.39,"u":0.71,"w":6500},{"q":1.57,"u":0.65,"w":6500},{"q":0.12,"u":0.70,"w":4300},{"q":0.10,"u":0.65,"w":4500},{"q":0.08,"u":0.62,"w":4400},
      {"q":0.17,"u":0.64,"w":6100},{"q":0.23,"u":0.62,"w":4300},{"q":0.73,"u":0.64,"w":5300},{"q":0.80,"u":0.65,"w":6900},{"q":0.87,"u":0.64,"w":6400},
      {"q":0.96,"u":0.65,"w":5700},{"q":1.03,"u":0.64,"w":6900},{"q":1.10,"u":0.65,"w":6400},{"q":1.17,"u":0.68,"w":6500},{"q":1.22,"u":0.58,"w":6800},
      {"q":1.07,"u":0.55,"w":6400},{"q":0.96,"u":0.55,"w":6300},{"q":0.85,"u":0.58,"w":5200},{"q":0.77,"u":0.55,"w":6400},{"q":1.15,"u":0.48,"w":6400},
      {"q":1.10,"u":0.46,"w":6900},{"q":1.03,"u":0.48,"w":6500},{"q":1.28,"u":0.45,"w":6500},{"q":1.21,"u":0.52,"w":6400},{"q":0.93,"u":0.39,"w":6400},
      {"q":1.06,"u":0.39,"w":6500},{"q":0.85,"u":0.40,"w":6400},{"q":0.90,"u":0.48,"w":5700},{"q":0.80,"u":0.36,"w":6500},{"q":-0.01,"u":0.57,"w":5300},
      {"q":-0.03,"u":0.52,"w":5200},{"q":0.04,"u":0.52,"w":4400},{"q":-0.01,"u":0.43,"w":4300},{"q":0.15,"u":0.49,"w":4400},{"q":0.17,"u":0.43,"w":4500},
      {"q":0.08,"u":0.48,"w":4300},{"q":0.20,"u":0.35,"w":6100},{"q":0.17,"u":0.32,"w":6100},{"q":0.27,"u":0.37,"w":6000},{"q":0.32,"u":0.36,"w":4300},
      {"q":0.39,"u":0.40,"w":6200},{"q":0.49,"u":0.39,"w":5200},{"q":0.56,"u":0.37,"w":4900},{"q":0.65,"u":0.39,"w":4300},{"q":0.73,"u":0.43,"w":5300},
      {"q":-0.06,"u":0.29,"w":4300},{"q":0.20,"u":0.26,"w":4300},{"q":0.25,"u":0.29,"w":4300},{"q":0.30,"u":0.32,"w":6100},{"q":0.37,"u":0.29,"w":4400},
      {"q":0.45,"u":0.30,"w":6000},{"q":0.51,"u":0.27,"w":5200},{"q":0.61,"u":0.26,"w":4300},{"q":0.67,"u":0.30,"w":4300},{"q":0.72,"u":0.21,"w":4300},
      {"q":0.78,"u":0.20,"w":4300},{"q":0.83,"u":0.24,"w":4300},{"q":0.85,"u":0.30,"w":5700},{"q":0.93,"u":0.35,"w":4300},{"q":1.01,"u":0.13,"w":4300},
      {"q":0.75,"u":0.12,"w":4300},{"q":0.61,"u":0.12,"w":4300},{"q":0.38,"u":0.08,"w":4300},{"q":0.25,"u":0.09,"w":4300},{"q":0.08,"u":0.09,"w":4300},
      {"q":0.11,"u":0.13,"w":4300},{"q":0.14,"u":0.16,"w":5700},{"q":0.28,"u":0.17,"w":4500},{"q":0.34,"u":0.20,"w":4600},{"q":0.45,"u":0.20,"w":4300},
      {"q":0.51,"u":0.17,"w":5200},{"q":0.65,"u":0.17,"w":5200},{"q":0.82,"u":0.03,"w":4300},{"q":0.00,"u":0.00,"w":4300},{"q":-0.22,"u":0.00,"w":7100},
      {"q":0.44,"u":0.52,"w":4600},{"q":0.52,"u":0.55,"w":6400},{"q":0.59,"u":0.60,"w":6900},{"q":0.68,"u":0.54,"w":6900},{"q":0.69,"u":0.48,"w":6400},
      {"q":0.73,"u":0.70,"w":5300},{"q":0.57,"u":0.79,"w":6300},{"q":0.39,"u":0.61,"w":6900},{"q":0.28,"u":0.55,"w":6400},{"q":0.34,"u":0.52,"w":6900}
    ],
    "d45": [
      {"q":0.05,"u":1.98,"w":5300},{"q":0.14,"u":1.89,"w":4300},{"q":0.59,"u":1.92,"w":4100},{"q":0.57,"u":1.88,"w":4100},{"q":0.76,"u":1.84,"w":4000},
      {"q":0.69,"u":1.81,"w":5500},{"q":0.90,"u":1.77,"w":6500},{"q":0.65,"u":1.73,"w":6100},{"q":0.85,"u":1.71,"w":5700},{"q":0.75,"u":1.69,"w":4300},
      {"q":1.17,"u":1.74,"w":5300},{"q":0.40,"u":1.66,"w":6000},{"q":1.10,"u":1.61,"w":6900},{"q":1.09,"u":1.61,"w":5300},{"q":0.86,"u":1.62,"w":4300},
      {"q":-0.45,"u":1.54,"w":4000},{"q":-0.12,"u":1.55,"w":4200},{"q":-0.04,"u":1.55,"w":5300},{"q":0.49,"u":1.55,"w":4300},{"q":0.57,"u":1.53,"w":5800},
      {"q":0.29,"u":1.49,"w":5900},{"q":0.66,"u":1.49,"w":4300},{"q":0.34,"u":1.44,"w":4300},{"q":0.45,"u":1.46,"w":4300},{"q":1.00,"u":1.45,"w":7000},
      {"q":0.97,"u":1.49,"w":4500},{"q":1.19,"u":1.42,"w":5300},{"q":0.07,"u":1.40,"w":6900},{"q":0.28,"u":1.42,"w":5200},{"q":0.18,"u":1.34,"w":6100},
      {"q":0.72,"u":1.40,"w":4300},{"q":0.75,"u":1.36,"w":4300},{"q":0.82,"u":1.36,"w":4300},{"q":0.72,"u":1.33,"w":5700},{"q":-0.48,"u":1.31,"w":5200},
      {"q":-0.05,"u":1.31,"w":4300},{"q":-0.03,"u":1.30,"w":6000},{"q":0.20,"u":1.28,"w":6000},{"q":0.34,"u":1.28,"w":6000},{"q":0.85,"u":1.30,"w":4100},
      {"q":0.63,"u":1.26,"w":6000},{"q":0.77,"u":1.26,"w":5200},{"q":0.26,"u":1.24,"w":4400},{"q":0.11,"u":1.23,"w":6100},{"q":0.94,"u":1.23,"w":4300},
      {"q":1.07,"u":1.24,"w":6100},{"q":0.66,"u":1.21,"w":6400},{"q":0.75,"u":1.20,"w":7100},{"q":1.84,"u":1.32,"w":4300},{"q":0.56,"u":1.19,"w":6800},
      {"q":0.95,"u":1.17,"w":6900},{"q":-0.06,"u":1.17,"w":4300},{"q":-0.08,"u":1.18,"w":4300},{"q":1.24,"u":1.14,"w":4400},{"q":1.52,"u":1.17,"w":5400},
      {"q":1.05,"u":1.17,"w":5600},{"q":-0.21,"u":1.17,"w":5200},{"q":-0.26,"u":1.13,"w":5200},{"q":-0.71,"u":1.12,"w":4300},{"q":-0.83,"u":1.07,"w":5100},
      {"q":-0.37,"u":1.08,"w":4300},{"q":-0.15,"u":1.08,"w":5100},{"q":0.05,"u":1.02,"w":5200},{"q":0.11,"u":1.07,"w":5300},{"q":0.21,"u":1.04,"w":4300},
      {"q":0.29,"u":1.05,"w":6100},{"q":0.36,"u":1.07,"w":5700},{"q":0.43,"u":1.08,"w":5100},{"q":0.48,"u":1.04,"w":5600},{"q":0.59,"u":1.01,"w":5800},
      {"q":0.68,"u":1.05,"w":4000},{"q":0.79,"u":0.96,"w":5100},{"q":0.90,"u":0.99,"w":4300},{"q":0.86,"u":0.97,"w":6900},{"q":1.32,"u":1.03,"w":6500},
      {"q":1.40,"u":1.02,"w":4300},{"q":1.37,"u":1.00,"w":6800},{"q":1.27,"u":0.99,"w":6900},{"q":1.69,"u":1.09,"w":5200},{"q":1.52,"u":0.96,"w":5300},
      {"q":-0.37,"u":1.00,"w":4300},{"q":-0.23,"u":0.96,"w":5200},{"q":-0.03,"u":0.96,"w":4200},{"q":0.02,"u":0.94,"w":6000},{"q":0.16,"u":0.96,"w":4300},
      {"q":0.25,"u":0.94,"w":5200},{"q":0.32,"u":0.95,"w":6800},{"q":0.39,"u":0.96,"w":6400},{"q":0.56,"u":0.95,"w":6400},{"q":0.64,"u":0.92,"w":6900},
      {"q":0.73,"u":0.94,"w":6000},{"q":0.83,"u":0.88,"w":6900},{"q":1.17,"u":0.88,"w":6800},{"q":1.83,"u":0.92,"w":5700},{"q":-0.72,"u":0.82,"w":5100},
      {"q":-0.47,"u":0.81,"w":6900},{"q":-0.26,"u":0.88,"w":4300},{"q":-0.20,"u":0.89,"w":4300},{"q":-0.09,"u":0.83,"w":6100},{"q":-0.01,"u":0.85,"w":4300},
      {"q":0.09,"u":0.88,"w":5300},{"q":0.19,"u":0.83,"w":6900},{"q":0.26,"u":0.86,"w":5100},{"q":0.33,"u":0.82,"w":6900},{"q":0.43,"u":0.85,"w":5700},
      {"q":0.52,"u":0.83,"w":6500},{"q":0.59,"u":0.82,"w":4300},{"q":0.67,"u":0.85,"w":6000},{"q":0.74,"u":0.82,"w":6800},{"q":0.81,"u":0.79,"w":5700},
      {"q":0.92,"u":0.82,"w":6900},{"q":0.99,"u":0.79,"w":5600},{"q":1.08,"u":0.79,"w":5700},{"q":1.14,"u":0.79,"w":6900},{"q":1.22,"u":0.82,"w":6800},
      {"q":1.34,"u":0.83,"w":4300},{"q":1.49,"u":0.79,"w":6500},{"q":1.38,"u":0.74,"w":5200},{"q":1.55,"u":0.74,"w":6900},{"q":1.44,"u":0.74,"w":5600},
      {"q":-0.58,"u":0.66,"w":4300},{"q":-0.40,"u":0.71,"w":5200},{"q":-0.36,"u":0.67,"w":5300},{"q":-0.26,"u":0.68,"w":4300},{"q":-0.17,"u":0.65,"w":4400},
      {"q":-0.09,"u":0.71,"w":4300},{"q":0.01,"u":0.72,"w":6900},{"q":0.08,"u":0.70,"w":6400},{"q":0.16,"u":0.71,"w":5200},{"q":0.25,"u":0.70,"w":6400},
      {"q":0.35,"u":0.68,"w":5700},{"q":0.46,"u":0.70,"w":6400},{"q":0.70,"u":0.70,"w":6900},{"q":0.77,"u":0.67,"w":6800},{"q":0.87,"u":0.65,"w":6900},
      {"q":0.95,"u":0.67,"w":6400},{"q":1.15,"u":0.65,"w":5700},{"q":1.25,"u":0.67,"w":6400},{"q":1.42,"u":0.65,"w":5700},{"q":1.48,"u":0.61,"w":4300},
      {"q":-0.55,"u":0.59,"w":4300},{"q":-0.50,"u":0.58,"w":5200},{"q":-0.28,"u":0.61,"w":5200},{"q":-0.23,"u":0.58,"w":6400},{"q":-0.15,"u":0.55,"w":4300},
      {"q":-0.06,"u":0.58,"w":5200},{"q":0.02,"u":0.55,"w":4300},{"q":0.11,"u":0.61,"w":6900},{"q":0.64,"u":0.60,"w":6300},{"q":0.75,"u":0.57,"w":6900},
      {"q":0.85,"u":0.58,"w":6400},{"q":0.92,"u":0.61,"w":6900},{"q":1.00,"u":0.55,"w":5700},{"q":1.06,"u":0.58,"w":6500},{"q":1.16,"u":0.57,"w":6100},
      {"q":1.23,"u":0.54,"w":6000},{"q":1.30,"u":0.55,"w":6400},{"q":1.53,"u":0.52,"w":4300},{"q":1.80,"u":0.55,"w":6500},{"q":-0.61,"u":0.44,"w":4300},
      {"q":-0.46,"u":0.47,"w":5200},{"q":-0.41,"u":0.48,"w":4000},{"q":-0.32,"u":0.46,"w":6000},{"q":-0.20,"u":0.43,"w":4300},{"q":-0.10,"u":0.45,"w":6400},
      {"q":-0.02,"u":0.46,"w":4300},{"q":0.08,"u":0.43,"w":6400},{"q":0.16,"u":0.40,"w":6900},{"q":0.39,"u":0.40,"w":6400},{"q":0.49,"u":0.43,"w":6300},
      {"q":0.68,"u":0.43,"w":6900},{"q":0.75,"u":0.40,"w":5300},{"q":0.84,"u":0.42,"w":6400},{"q":0.92,"u":0.46,"w":4300},{"q":1.01,"u":0.39,"w":6900},
      {"q":1.08,"u":0.46,"w":6800},{"q":1.15,"u":0.43,"w":6900},{"q":1.23,"u":0.47,"w":6300},{"q":1.32,"u":0.47,"w":6400},{"q":1.32,"u":0.37,"w":5700},
      {"q":1.28,"u":0.35,"w":6500},{"q":1.46,"u":0.32,"w":6400},{"q":1.68,"u":0.41,"w":4300},{"q":1.45,"u":0.29,"w":4300},{"q":1.44,"u":0.18,"w":4000},
      {"q":1.53,"u":0.06,"w":6900},{"q":-0.70,"u":0.30,"w":5200},{"q":-0.58,"u":0.23,"w":4300},{"q":-0.64,"u":0.26,"w":6100},{"q":-0.55,"u":0.28,"w":5200},
      {"q":-0.45,"u":0.22,"w":4300},{"q":-0.76,"u":0.14,"w":4000},{"q":-0.36,"u":0.29,"w":4300},{"q":-0.27,"u":0.24,"w":4300},{"q":-0.17,"u":0.27,"w":6900},
      {"q":-0.09,"u":0.23,"w":5200},{"q":-0.01,"u":0.32,"w":4300},{"q":0.08,"u":0.26,"w":6900},{"q":0.16,"u":0.29,"w":4300},{"q":0.25,"u":0.24,"w":6400},
      {"q":0.33,"u":0.27,"w":4300},{"q":0.42,"u":0.24,"w":6800},{"q":0.52,"u":0.29,"w":6400},{"q":0.60,"u":0.26,"w":6000},{"q":0.70,"u":0.29,"w":4300},
      {"q":0.78,"u":0.27,"w":6900},{"q":0.88,"u":0.24,"w":6400},{"q":0.97,"u":0.21,"w":4300},{"q":1.05,"u":0.24,"w":6900},{"q":1.15,"u":0.24,"w":6900},
      {"q":1.15,"u":0.17,"w":6400},{"q":1.03,"u":0.17,"w":6400},{"q":1.24,"u":0.18,"w":6400},{"q":1.28,"u":0.15,"w":6900},{"q":1.20,"u":0.11,"w":5700},
      {"q":-0.22,"u":0.06,"w":4300},{"q":-0.15,"u":0.11,"w":5200},{"q":-0.03,"u":0.09,"w":4300},{"q":0.06,"u":0.14,"w":6800},{"q":0.14,"u":0.08,"w":6400},
      {"q":0.22,"u":0.14,"w":6900},{"q":0.30,"u":0.08,"w":6400},{"q":0.39,"u":0.12,"w":5200},{"q":0.47,"u":0.05,"w":6400},{"q":0.56,"u":0.08,"w":6900},
      {"q":0.67,"u":0.08,"w":6900},{"q":0.75,"u":0.05,"w":6400},{"q":0.85,"u":0.06,"w":6400},{"q":0.92,"u":0.02,"w":5700},{"q":1.02,"u":0.06,"w":6400},
      {"q":1.07,"u":0.00,"w":6400},{"q":0.00,"u":0.00,"w":6900},{"q":0.12,"u":-0.07,"w":4300},{"q":0.22,"u":-0.05,"w":6400},{"q":0.32,"u":-0.05,"w":5200},
      {"q":0.36,"u":-0.10,"w":4300},{"q":0.45,"u":-0.08,"w":6400},{"q":0.49,"u":-0.16,"w":6400},{"q":0.58,"u":-0.10,"w":5200},{"q":0.61,"u":-0.07,"w":6900},
      {"q":0.70,"u":-0.05,"w":4300},{"q":0.77,"u":-0.07,"w":6900},{"q":0.77,"u":-0.14,"w":4300},{"q":0.86,"u":-0.10,"w":6900},{"q":0.86,"u":-0.16,"w":4300},
      {"q":0.94,"u":-0.08,"w":6400},{"q":1.01,"u":-0.16,"w":6400},{"q":1.05,"u":-0.16,"w":6900},{"q":1.15,"u":-0.13,"w":6800},{"q":1.23,"u":-0.08,"w":6400},
      {"q":1.23,"u":-0.14,"w":4300},{"q":1.52,"u":-0.12,"w":5200},{"q":-0.31,"u":-0.15,"w":4300},{"q":-0.10,"u":-0.18,"w":6100},{"q":-0.03,"u":-0.22,"w":6000},
      {"q":0.26,"u":-0.16,"w":6400},{"q":0.22,"u":-0.22,"w":4300},{"q":0.21,"u":-0.27,"w":4300},{"q":0.30,"u":-0.23,"w":6400},{"q":0.41,"u":-0.19,"w":5700},
      {"q":0.56,"u":-0.26,"w":4300},{"q":0.68,"u":-0.27,"w":6400},{"q":0.77,"u":-0.31,"w":4300},{"q":0.92,"u":-0.32,"w":4300},{"q":1.04,"u":-0.31,"w":4300},
      {"q":1.20,"u":-0.25,"w":5700},{"q":-0.16,"u":-0.38,"w":4300},{"q":0.01,"u":-0.33,"w":5200},{"q":0.34,"u":-0.35,"w":6900},{"q":0.50,"u":-0.36,"w":4300},
      {"q":0.59,"u":-0.44,"w":4300},{"q":0.64,"u":-0.39,"w":4300},{"q":1.02,"u":-0.46,"w":4300},{"q":1.06,"u":-0.40,"w":6400},{"q":1.32,"u":-0.36,"w":6400},
      {"q":1.48,"u":-0.36,"w":6400},{"q":0.70,"u":-0.48,"w":6400},{"q":0.11,"u":-0.60,"w":4500},{"q":0.12,"u":-0.66,"w":6900},{"q":-0.01,"u":-0.71,"w":4300},
      {"q":0.39,"u":-0.73,"w":6400},{"q":1.19,"u":-0.61,"w":6400},{"q":1.63,"u":-0.66,"w":6400}
    ],
    "d48": [
      {"q":-1.41,"u":1.81,"w":4300},{"q":0.96,"u":1.96,"w":4300},{"q":0.43,"u":1.88,"w":4200},{"q":0.59,"u":1.67,"w":6100},{"q":0.43,"u":1.64,"w":6100},
      {"q":0.28,"u":1.61,"w":6100},{"q":0.16,"u":1.65,"w":4000},{"q":-0.55,"u":1.58,"w":5200},{"q":0.21,"u":1.53,"w":5300},{"q":0.21,"u":1.50,"w":6100},
      {"q":1.15,"u":1.48,"w":7100},{"q":1.19,"u":1.40,"w":4300},{"q":1.20,"u":1.38,"w":6100},{"q":1.09,"u":1.41,"w":5300},{"q":1.01,"u":1.39,"w":6100},
      {"q":1.05,"u":1.37,"w":4300},{"q":0.94,"u":1.38,"w":7100},{"q":1.13,"u":1.37,"w":4300},{"q":1.06,"u":1.30,"w":6100},{"q":-0.58,"u":1.42,"w":4300},
      {"q":-0.59,"u":1.39,"w":6900},{"q":-0.24,"u":1.44,"w":4300},{"q":-0.03,"u":1.37,"w":5300},{"q":0.24,"u":1.36,"w":4300},{"q":0.28,"u":1.36,"w":4300},
      {"q":0.44,"u":1.40,"w":5200},{"q":0.52,"u":1.37,"w":4300},{"q":0.66,"u":1.37,"w":4300},{"q":0.75,"u":1.36,"w":4300},{"q":0.79,"u":1.31,"w":6100},
      {"q":0.74,"u":1.29,"w":6000},{"q":0.16,"u":1.29,"w":4300},{"q":0.44,"u":1.28,"w":6000},{"q":0.70,"u":1.24,"w":6400},{"q":-0.10,"u":1.23,"w":5200},
      {"q":-0.26,"u":1.19,"w":4300},{"q":-0.41,"u":1.17,"w":5200},{"q":0.00,"u":1.20,"w":4300},{"q":-0.02,"u":1.17,"w":5700},{"q":0.12,"u":1.19,"w":5200},
      {"q":0.14,"u":1.17,"w":5300},{"q":1.22,"u":1.19,"w":4300},{"q":0.52,"u":1.20,"w":5300},{"q":0.64,"u":1.14,"w":6400},{"q":0.78,"u":1.14,"w":6000},
      {"q":0.98,"u":1.11,"w":6900},{"q":1.07,"u":1.11,"w":6900},{"q":-0.17,"u":1.12,"w":4300},{"q":0.04,"u":1.12,"w":5300},{"q":0.08,"u":1.10,"w":6100},
      {"q":0.33,"u":1.14,"w":5700},{"q":0.49,"u":1.10,"w":5100},{"q":0.57,"u":1.07,"w":4300},{"q":0.73,"u":1.07,"w":6100},{"q":0.87,"u":1.05,"w":6900},
      {"q":1.25,"u":1.02,"w":4300},{"q":1.35,"u":1.06,"w":5100},{"q":1.62,"u":1.07,"w":6500},{"q":1.67,"u":0.99,"w":6100},{"q":-0.31,"u":1.03,"w":5200},
      {"q":-0.15,"u":1.05,"w":5300},{"q":-0.12,"u":1.02,"w":4300},{"q":0.05,"u":1.02,"w":7100},{"q":0.11,"u":0.99,"w":5300},{"q":0.19,"u":0.99,"w":5300},
      {"q":0.28,"u":1.07,"w":4300},{"q":0.39,"u":1.07,"w":4300},{"q":0.44,"u":1.04,"w":6900},{"q":0.57,"u":0.96,"w":4300},{"q":0.68,"u":0.96,"w":6800},
      {"q":0.78,"u":1.02,"w":4300},{"q":0.79,"u":0.96,"w":6400},{"q":1.01,"u":0.96,"w":4300},{"q":1.13,"u":0.97,"w":6800},{"q":1.38,"u":0.94,"w":6400},
      {"q":1.80,"u":0.91,"w":6400},{"q":-0.68,"u":0.89,"w":4300},{"q":-0.64,"u":0.91,"w":4300},{"q":-0.50,"u":0.77,"w":5400},{"q":-0.28,"u":0.83,"w":4300},
      {"q":-0.26,"u":0.86,"w":4300},{"q":-0.20,"u":0.91,"w":4300},{"q":-0.16,"u":0.85,"w":6800},{"q":-0.15,"u":0.80,"w":4300},{"q":-0.08,"u":0.89,"w":5300},
      {"q":-0.03,"u":0.91,"w":6000},{"q":0.05,"u":0.85,"w":5600},{"q":0.11,"u":0.86,"w":6900},{"q":0.17,"u":0.89,"w":6000},{"q":0.22,"u":0.85,"w":4300},
      {"q":0.28,"u":0.88,"w":6900},{"q":0.35,"u":0.87,"w":6900},{"q":0.39,"u":0.91,"w":5700},{"q":0.44,"u":0.82,"w":4300},{"q":0.52,"u":0.85,"w":5700},
      {"q":0.57,"u":0.80,"w":6900},{"q":0.64,"u":0.88,"w":5700},{"q":0.75,"u":0.88,"w":4300},{"q":0.82,"u":0.83,"w":5700},{"q":0.88,"u":0.87,"w":6900},
      {"q":0.91,"u":0.88,"w":6900},{"q":0.99,"u":0.87,"w":5300},{"q":1.08,"u":0.88,"w":5700},{"q":1.05,"u":0.80,"w":6800},{"q":1.10,"u":0.78,"w":6900},
      {"q":1.35,"u":0.84,"w":4000},{"q":1.87,"u":0.78,"w":5400},{"q":-0.44,"u":0.77,"w":5200},{"q":-0.26,"u":0.76,"w":4300},{"q":-0.12,"u":0.76,"w":4300},
      {"q":0.04,"u":0.74,"w":5300},{"q":0.15,"u":0.76,"w":6900},{"q":0.21,"u":0.71,"w":5200},{"q":0.30,"u":0.73,"w":4300},{"q":0.36,"u":0.70,"w":6300},
      {"q":0.46,"u":0.73,"w":6100},{"q":0.54,"u":0.74,"w":4300},{"q":0.61,"u":0.76,"w":6900},{"q":0.70,"u":0.73,"w":6800},{"q":0.80,"u":0.74,"w":5700},
      {"q":0.90,"u":0.71,"w":5300},{"q":0.97,"u":0.70,"w":6400},{"q":1.06,"u":0.70,"w":6100},{"q":1.15,"u":0.71,"w":5300},{"q":1.27,"u":0.68,"w":6900},
      {"q":1.37,"u":0.68,"w":6400},{"q":1.46,"u":0.73,"w":6900},{"q":1.56,"u":0.73,"w":6900},{"q":1.81,"u":0.72,"w":6400},{"q":1.56,"u":0.66,"w":4300},
      {"q":1.62,"u":0.61,"w":6400},{"q":1.70,"u":0.59,"w":4300},{"q":1.93,"u":0.57,"w":5400},{"q":1.72,"u":0.49,"w":5500},{"q":-0.99,"u":0.63,"w":4300},
      {"q":-1.23,"u":0.57,"w":4300},{"q":-0.86,"u":0.62,"w":4000},{"q":-0.68,"u":0.57,"w":5200},{"q":-0.65,"u":0.48,"w":5200},{"q":-0.55,"u":0.57,"w":4000},
      {"q":-0.52,"u":0.53,"w":6100},{"q":-0.46,"u":0.50,"w":5300},{"q":-0.37,"u":0.70,"w":4300},{"q":-0.40,"u":0.60,"w":4300},{"q":-0.29,"u":0.64,"w":5200},
      {"q":-0.23,"u":0.64,"w":5200},{"q":-0.19,"u":0.58,"w":5200},{"q":-0.10,"u":0.55,"w":6900},{"q":-0.05,"u":0.60,"w":5200},{"q":0.00,"u":0.49,"w":4300},
      {"q":0.09,"u":0.55,"w":5200},{"q":0.18,"u":0.52,"w":6400},{"q":0.73,"u":0.55,"w":6400},{"q":0.78,"u":0.61,"w":6900},{"q":0.82,"u":0.52,"w":5300},
      {"q":0.88,"u":0.60,"w":6400},{"q":0.93,"u":0.63,"w":6900},{"q":0.97,"u":0.57,"w":5700},{"q":0.99,"u":0.48,"w":6900},{"q":1.05,"u":0.54,"w":5300},
      {"q":1.12,"u":0.49,"w":6100},{"q":1.18,"u":0.48,"w":6400},{"q":1.22,"u":0.43,"w":5700},{"q":1.27,"u":0.36,"w":6900},{"q":1.39,"u":0.51,"w":6800},
      {"q":1.40,"u":0.46,"w":6400},{"q":1.43,"u":0.39,"w":6400},{"q":1.46,"u":0.34,"w":5700},{"q":1.39,"u":0.36,"w":6400},{"q":1.58,"u":0.40,"w":5200},
      {"q":1.57,"u":0.23,"w":6900},{"q":-0.94,"u":0.38,"w":5200},{"q":-0.58,"u":0.39,"w":4000},{"q":-0.48,"u":0.40,"w":5300},{"q":-0.62,"u":0.30,"w":4300},
      {"q":-0.34,"u":0.35,"w":5200},{"q":-0.23,"u":0.38,"w":4300},{"q":-0.18,"u":0.38,"w":4300},{"q":-0.10,"u":0.40,"w":4300},{"q":-0.03,"u":0.36,"w":4000},
      {"q":0.05,"u":0.40,"w":6100},{"q":0.14,"u":0.37,"w":5700},{"q":0.22,"u":0.36,"w":6000},{"q":0.30,"u":0.37,"w":6400},{"q":0.39,"u":0.35,"w":6900},
      {"q":0.47,"u":0.32,"w":6400},{"q":0.61,"u":0.33,"w":6400},{"q":0.70,"u":0.35,"w":6100},{"q":0.78,"u":0.36,"w":6400},{"q":0.87,"u":0.35,"w":6400},
      {"q":0.95,"u":0.37,"w":6900},{"q":1.03,"u":0.37,"w":6900},{"q":1.11,"u":0.35,"w":6400},{"q":1.12,"u":0.23,"w":6400},{"q":-0.45,"u":0.22,"w":6900},
      {"q":-1.04,"u":0.18,"w":4300},{"q":-0.69,"u":0.12,"w":4300},{"q":-0.42,"u":0.09,"w":4300},{"q":-0.35,"u":0.06,"w":4300},{"q":-0.52,"u":0.04,"w":5300},
      {"q":-0.23,"u":0.15,"w":4300},{"q":-0.19,"u":0.13,"w":4300},{"q":-0.12,"u":0.21,"w":4300},{"q":-0.09,"u":0.15,"w":4300},{"q":-0.01,"u":0.11,"w":4300},
      {"q":0.05,"u":0.20,"w":5200},{"q":0.12,"u":0.15,"w":4300},{"q":0.21,"u":0.17,"w":5200},{"q":0.28,"u":0.20,"w":4300},{"q":0.36,"u":0.15,"w":6900},
      {"q":0.44,"u":0.12,"w":6400},{"q":0.59,"u":0.15,"w":5200},{"q":0.68,"u":0.24,"w":6900},{"q":0.75,"u":0.21,"w":6400},{"q":0.83,"u":0.20,"w":5300},
      {"q":0.92,"u":0.10,"w":6900},{"q":0.97,"u":0.05,"w":6900},{"q":0.86,"u":0.05,"w":6400},{"q":0.73,"u":0.05,"w":6900},{"q":0.61,"u":0.06,"w":6400},
      {"q":0.50,"u":0.04,"w":6400},{"q":0.33,"u":0.05,"w":6100},{"q":0.22,"u":0.01,"w":5300},{"q":-0.32,"u":-0.03,"w":4300},{"q":-0.20,"u":-0.15,"w":4300},
      {"q":-0.06,"u":-0.22,"w":4300},{"q":0.03,"u":-0.18,"w":4300},{"q":0.21,"u":-0.11,"w":4300},{"q":0.26,"u":-0.13,"w":6400},{"q":0.33,"u":-0.19,"w":4300},
      {"q":0.44,"u":-0.10,"w":6400},{"q":0.53,"u":-0.01,"w":5700},{"q":0.64,"u":-0.08,"w":6900},{"q":0.75,"u":-0.11,"w":6400},{"q":0.83,"u":-0.14,"w":6900},
      {"q":0.86,"u":-0.21,"w":6900},{"q":0.94,"u":-0.07,"w":4300},{"q":0.97,"u":-0.09,"w":6400},{"q":1.04,"u":-0.01,"w":6400},{"q":1.27,"u":-0.06,"w":4000},
      {"q":1.36,"u":-0.22,"w":6400},{"q":1.40,"u":-0.13,"w":6400},{"q":1.41,"u":-0.16,"w":5200},{"q":1.53,"u":-0.01,"w":6400},{"q":1.69,"u":-0.10,"w":6900},
      {"q":-0.36,"u":-0.26,"w":4300},{"q":-0.21,"u":-0.28,"w":6900},{"q":-0.06,"u":-0.31,"w":6400},{"q":0.32,"u":-0.27,"w":5200},{"q":0.52,"u":-0.23,"w":6900},
      {"q":0.61,"u":-0.36,"w":6400},{"q":0.73,"u":-0.31,"w":6900},{"q":1.36,"u":-0.30,"w":4300},{"q":-0.50,"u":-0.34,"w":4300},{"q":-0.14,"u":-0.42,"w":4300},
      {"q":0.19,"u":-0.44,"w":4000},{"q":0.37,"u":-0.34,"w":4300},{"q":0.44,"u":-0.38,"w":4300},{"q":0.83,"u":-0.42,"w":6900},{"q":1.11,"u":-0.33,"w":4300},
      {"q":1.29,"u":-0.44,"w":4000},{"q":0.10,"u":-0.50,"w":4300},{"q":0.97,"u":-0.50,"w":6900}
    ]
  },
  "spacing": 57,
  "hconcat": [
    {
      "columns": 3,
      "spacing": {"row": 137, "column": 208},
      "bounds": "flush",
      "resolve": {"scale": {"color": "shared", "fill": "shared", "stroke": "shared"}, "legend": {"fill": "independent"}},
      "concat": [
        {
          "width": 689, "height": 686,
          "layer": [
            {"data": {"values": [{}]}, "mark": {"type": "rule", "color": "#595959", "strokeWidth": 6.5, "strokeDash": [34, 22]}, "encoding": {"x": {"datum": 0}}},
            {"data": {"values": [{}]}, "mark": {"type": "rule", "color": "#595959", "strokeWidth": 6.5, "strokeDash": [34, 22]}, "encoding": {"y": {"datum": 0}}},
            {"data": {"values": [{"t": "ISP"}]}, "mark": {"type": "text", "align": "left", "baseline": "middle", "fontSize": 54, "color": "#4d4d4d"}, "encoding": {"x": {"datum": -1.48}, "y": {"datum": -1.38}, "text": {"field": "t", "type": "nominal"}}},
            {"data": {"name": "ref"}, "mark": {"type": "circle", "size": 290, "opacity": 1, "stroke": "#000000", "strokeWidth": 2.5},
             "encoding": {
               "x": {"field": "q", "type": "quantitative", "title": "q(%)", "scale": {"domain": [-2, 2], "nice": false, "zero": false}, "axis": {"values": [-2, -1, 0, 1, 2], "format": "d", "grid": true}},
               "y": {"field": "u", "type": "quantitative", "title": "u(%)", "scale": {"domain": [-2, 2], "nice": false, "zero": false}, "axis": {"values": [-2, -1.5, -1, -0.5, 0, 0.5, 1, 1.5, 2], "format": ".1f", "grid": true}},
               "fill": {"field": "n", "type": "nominal",
                 "scale": {"domain": ["Eqs. 7 and 8 at 5250A", "Eqs. 7 and 8 at 6600A", "Tran et al. 1997", "Trammell et al. 1993", "LB +24d", "LB +30d", "LB +34d", "LB +45d"],
                           "range": ["#6b0032", "#b0004f", "#c47c00", "#ffbc4a", "#243450", "#4a6696", "#5f93e0", "#a8c1ec"]},
                 "legend": {"orient": "top-left", "offset": 14, "columns": 2, "title": null, "symbolType": "circle", "symbolSize": 330, "symbolStrokeColor": "#000000", "symbolStrokeWidth": 2, "symbolOpacity": 1,
                            "labelFontSize": 26, "labelColor": "#4d4d4d", "labelOffset": 50, "labelLimit": 500, "rowPadding": 14, "columnPadding": 82, "padding": 12,
                            "strokeColor": "#cccccc", "fillColor": "#ffffff", "cornerRadius": 6}}}},
            {"data": {"name": "e5250"}, "mark": {"type": "rule", "color": "#6b0032", "strokeWidth": 3.5}, "encoding": {"x": {"field": "x1", "type": "quantitative"}, "x2": {"field": "x2"}, "y": {"field": "y1", "type": "quantitative"}, "y2": {"field": "y2"}}},
            {"data": {"name": "e6600"}, "mark": {"type": "rule", "color": "#b0004f", "strokeWidth": 3.5}, "encoding": {"x": {"field": "x1", "type": "quantitative"}, "x2": {"field": "x2"}, "y": {"field": "y1", "type": "quantitative"}, "y2": {"field": "y2"}}}
          ]
        },
        {
          "width": 689, "height": 686,
          "layer": [
            {"data": {"name": "d24"}, "mark": {"type": "circle", "size": 56, "fillOpacity": 0.42, "strokeOpacity": 0.7, "strokeWidth": 1.5},
             "encoding": {"x": {"field": "q", "type": "quantitative"}, "y": {"field": "u", "type": "quantitative"},
               "color": {"field": "w", "type": "quantitative", "legend": null,
                 "scale": {"domain": [3880, 4288.75, 4697.5, 5106.25, 5515, 5923.75, 6332.5, 6741.25, 7150], "range": ["#00007f", "#0000ff", "#0080ff", "#14ffe2", "#7bff7b", "#e1ff14", "#ff9700", "#ff2100", "#800000"]}},
               "stroke": {"field": "w", "type": "quantitative", "legend": null,
                 "scale": {"domain": [3880, 4288.75, 4697.5, 5106.25, 5515, 5923.75, 6332.5, 6741.25, 7150], "range": ["#00007f", "#0000ff", "#0080ff", "#14ffe2", "#7bff7b", "#e1ff14", "#ff9700", "#ff2100", "#800000"]}}}},
            {"data": {"values": [{}]}, "mark": {"type": "rule", "color": "#595959", "strokeWidth": 6.5, "strokeDash": [34, 22]}, "encoding": {"x": {"datum": 0}}},
            {"data": {"values": [{}]}, "mark": {"type": "rule", "color": "#595959", "strokeWidth": 6.5, "strokeDash": [34, 22]}, "encoding": {"y": {"datum": 0}}},
            {"data": {"values": [{"t": "+24 d"}]}, "mark": {"type": "text", "align": "left", "baseline": "middle", "fontSize": 54, "color": "#4d4d4d"}, "encoding": {"x": {"datum": -1.48}, "y": {"datum": -1.38}, "text": {"field": "t", "type": "nominal"}}},
            {"data": {"name": "ref"}, "mark": {"type": "circle", "size": 290, "opacity": 1, "stroke": "#000000", "strokeWidth": 2.5},
             "encoding": {
               "x": {"field": "q", "type": "quantitative", "title": "q(%)", "scale": {"domain": [-2, 2], "nice": false, "zero": false}, "axis": {"values": [-2, -1, 0, 1, 2], "format": "d", "grid": true}},
               "y": {"field": "u", "type": "quantitative", "title": "u(%)", "scale": {"domain": [-2, 2], "nice": false, "zero": false}, "axis": {"values": [-2, -1.5, -1, -0.5, 0, 0.5, 1, 1.5, 2], "format": ".1f", "grid": true}},
               "fill": {"field": "n", "type": "nominal", "legend": null}}},
            {"data": {"name": "e5250"}, "mark": {"type": "rule", "color": "#6b0032", "strokeWidth": 3.5}, "encoding": {"x": {"field": "x1", "type": "quantitative"}, "x2": {"field": "x2"}, "y": {"field": "y1", "type": "quantitative"}, "y2": {"field": "y2"}}},
            {"data": {"name": "e6600"}, "mark": {"type": "rule", "color": "#b0004f", "strokeWidth": 3.5}, "encoding": {"x": {"field": "x1", "type": "quantitative"}, "x2": {"field": "x2"}, "y": {"field": "y1", "type": "quantitative"}, "y2": {"field": "y2"}}}
          ]
        },
        {
          "width": 689, "height": 686,
          "layer": [
            {"data": {"name": "d30"}, "mark": {"type": "circle", "size": 56, "fillOpacity": 0.42, "strokeOpacity": 0.7, "strokeWidth": 1.5},
             "encoding": {"x": {"field": "q", "type": "quantitative"}, "y": {"field": "u", "type": "quantitative"}, "color": {"field": "w", "type": "quantitative", "legend": null}, "stroke": {"field": "w", "type": "quantitative", "legend": null}}},
            {"data": {"values": [{}]}, "mark": {"type": "rule", "color": "#595959", "strokeWidth": 6.5, "strokeDash": [34, 22]}, "encoding": {"x": {"datum": 0}}},
            {"data": {"values": [{}]}, "mark": {"type": "rule", "color": "#595959", "strokeWidth": 6.5, "strokeDash": [34, 22]}, "encoding": {"y": {"datum": 0}}},
            {"data": {"values": [{"t": "+30 d"}]}, "mark": {"type": "text", "align": "left", "baseline": "middle", "fontSize": 54, "color": "#4d4d4d"}, "encoding": {"x": {"datum": -1.48}, "y": {"datum": -1.38}, "text": {"field": "t", "type": "nominal"}}},
            {"data": {"name": "ref"}, "mark": {"type": "circle", "size": 290, "opacity": 1, "stroke": "#000000", "strokeWidth": 2.5},
             "encoding": {
               "x": {"field": "q", "type": "quantitative", "title": "q(%)", "scale": {"domain": [-2, 2], "nice": false, "zero": false}, "axis": {"values": [-2, -1, 0, 1, 2], "format": "d", "grid": true}},
               "y": {"field": "u", "type": "quantitative", "title": "u(%)", "scale": {"domain": [-2, 2], "nice": false, "zero": false}, "axis": {"values": [-2, -1.5, -1, -0.5, 0, 0.5, 1, 1.5, 2], "format": ".1f", "grid": true}},
               "fill": {"field": "n", "type": "nominal", "legend": null}}},
            {"data": {"name": "e5250"}, "mark": {"type": "rule", "color": "#6b0032", "strokeWidth": 3.5}, "encoding": {"x": {"field": "x1", "type": "quantitative"}, "x2": {"field": "x2"}, "y": {"field": "y1", "type": "quantitative"}, "y2": {"field": "y2"}}},
            {"data": {"name": "e6600"}, "mark": {"type": "rule", "color": "#b0004f", "strokeWidth": 3.5}, "encoding": {"x": {"field": "x1", "type": "quantitative"}, "x2": {"field": "x2"}, "y": {"field": "y1", "type": "quantitative"}, "y2": {"field": "y2"}}}
          ]
        },
        {
          "width": 689, "height": 686,
          "layer": [
            {"data": {"name": "d34"}, "mark": {"type": "circle", "size": 56, "fillOpacity": 0.42, "strokeOpacity": 0.7, "strokeWidth": 1.5},
             "encoding": {"x": {"field": "q", "type": "quantitative"}, "y": {"field": "u", "type": "quantitative"}, "color": {"field": "w", "type": "quantitative", "legend": null}, "stroke": {"field": "w", "type": "quantitative", "legend": null}}},
            {"data": {"values": [{}]}, "mark": {"type": "rule", "color": "#595959", "strokeWidth": 6.5, "strokeDash": [34, 22]}, "encoding": {"x": {"datum": 0}}},
            {"data": {"values": [{}]}, "mark": {"type": "rule", "color": "#595959", "strokeWidth": 6.5, "strokeDash": [34, 22]}, "encoding": {"y": {"datum": 0}}},
            {"data": {"values": [{"t": "+34 d"}]}, "mark": {"type": "text", "align": "left", "baseline": "middle", "fontSize": 54, "color": "#4d4d4d"}, "encoding": {"x": {"datum": -1.48}, "y": {"datum": -1.38}, "text": {"field": "t", "type": "nominal"}}},
            {"data": {"name": "ref"}, "mark": {"type": "circle", "size": 290, "opacity": 1, "stroke": "#000000", "strokeWidth": 2.5},
             "encoding": {
               "x": {"field": "q", "type": "quantitative", "title": "q(%)", "scale": {"domain": [-2, 2], "nice": false, "zero": false}, "axis": {"values": [-2, -1, 0, 1, 2], "format": "d", "grid": true}},
               "y": {"field": "u", "type": "quantitative", "title": "u(%)", "scale": {"domain": [-2, 2], "nice": false, "zero": false}, "axis": {"values": [-2, -1.5, -1, -0.5, 0, 0.5, 1, 1.5, 2], "format": ".1f", "grid": true}},
               "fill": {"field": "n", "type": "nominal", "legend": null}}},
            {"data": {"name": "e5250"}, "mark": {"type": "rule", "color": "#6b0032", "strokeWidth": 3.5}, "encoding": {"x": {"field": "x1", "type": "quantitative"}, "x2": {"field": "x2"}, "y": {"field": "y1", "type": "quantitative"}, "y2": {"field": "y2"}}},
            {"data": {"name": "e6600"}, "mark": {"type": "rule", "color": "#b0004f", "strokeWidth": 3.5}, "encoding": {"x": {"field": "x1", "type": "quantitative"}, "x2": {"field": "x2"}, "y": {"field": "y1", "type": "quantitative"}, "y2": {"field": "y2"}}}
          ]
        },
        {
          "width": 689, "height": 686,
          "layer": [
            {"data": {"name": "d45"}, "mark": {"type": "circle", "size": 56, "fillOpacity": 0.42, "strokeOpacity": 0.7, "strokeWidth": 1.5},
             "encoding": {"x": {"field": "q", "type": "quantitative"}, "y": {"field": "u", "type": "quantitative"}, "color": {"field": "w", "type": "quantitative", "legend": null}, "stroke": {"field": "w", "type": "quantitative", "legend": null}}},
            {"data": {"values": [{}]}, "mark": {"type": "rule", "color": "#595959", "strokeWidth": 6.5, "strokeDash": [34, 22]}, "encoding": {"x": {"datum": 0}}},
            {"data": {"values": [{}]}, "mark": {"type": "rule", "color": "#595959", "strokeWidth": 6.5, "strokeDash": [34, 22]}, "encoding": {"y": {"datum": 0}}},
            {"data": {"values": [{"t": "+45 d"}]}, "mark": {"type": "text", "align": "left", "baseline": "middle", "fontSize": 54, "color": "#4d4d4d"}, "encoding": {"x": {"datum": -1.48}, "y": {"datum": -1.38}, "text": {"field": "t", "type": "nominal"}}},
            {"data": {"name": "ref"}, "mark": {"type": "circle", "size": 290, "opacity": 1, "stroke": "#000000", "strokeWidth": 2.5},
             "encoding": {
               "x": {"field": "q", "type": "quantitative", "title": "q(%)", "scale": {"domain": [-2, 2], "nice": false, "zero": false}, "axis": {"values": [-2, -1, 0, 1, 2], "format": "d", "grid": true}},
               "y": {"field": "u", "type": "quantitative", "title": "u(%)", "scale": {"domain": [-2, 2], "nice": false, "zero": false}, "axis": {"values": [-2, -1.5, -1, -0.5, 0, 0.5, 1, 1.5, 2], "format": ".1f", "grid": true}},
               "fill": {"field": "n", "type": "nominal", "legend": null}}},
            {"data": {"name": "e5250"}, "mark": {"type": "rule", "color": "#6b0032", "strokeWidth": 3.5}, "encoding": {"x": {"field": "x1", "type": "quantitative"}, "x2": {"field": "x2"}, "y": {"field": "y1", "type": "quantitative"}, "y2": {"field": "y2"}}},
            {"data": {"name": "e6600"}, "mark": {"type": "rule", "color": "#b0004f", "strokeWidth": 3.5}, "encoding": {"x": {"field": "x1", "type": "quantitative"}, "x2": {"field": "x2"}, "y": {"field": "y1", "type": "quantitative"}, "y2": {"field": "y2"}}}
          ]
        },
        {
          "width": 689, "height": 686,
          "layer": [
            {"data": {"name": "d48"}, "mark": {"type": "circle", "size": 56, "fillOpacity": 0.42, "strokeOpacity": 0.7, "strokeWidth": 1.5},
             "encoding": {"x": {"field": "q", "type": "quantitative"}, "y": {"field": "u", "type": "quantitative"}, "color": {"field": "w", "type": "quantitative", "legend": null}, "stroke": {"field": "w", "type": "quantitative", "legend": null}}},
            {"data": {"values": [{}]}, "mark": {"type": "rule", "color": "#595959", "strokeWidth": 6.5, "strokeDash": [34, 22]}, "encoding": {"x": {"datum": 0}}},
            {"data": {"values": [{}]}, "mark": {"type": "rule", "color": "#595959", "strokeWidth": 6.5, "strokeDash": [34, 22]}, "encoding": {"y": {"datum": 0}}},
            {"data": {"values": [{"t": "+48 d"}]}, "mark": {"type": "text", "align": "left", "baseline": "middle", "fontSize": 54, "color": "#4d4d4d"}, "encoding": {"x": {"datum": -1.48}, "y": {"datum": -1.38}, "text": {"field": "t", "type": "nominal"}}},
            {"data": {"name": "ref"}, "mark": {"type": "circle", "size": 290, "opacity": 1, "stroke": "#000000", "strokeWidth": 2.5},
             "encoding": {
               "x": {"field": "q", "type": "quantitative", "title": "q(%)", "scale": {"domain": [-2, 2], "nice": false, "zero": false}, "axis": {"values": [-2, -1, 0, 1, 2], "format": "d", "grid": true}},
               "y": {"field": "u", "type": "quantitative", "title": "u(%)", "scale": {"domain": [-2, 2], "nice": false, "zero": false}, "axis": {"values": [-2, -1.5, -1, -0.5, 0, 0.5, 1, 1.5, 2], "format": ".1f", "grid": true}},
               "fill": {"field": "n", "type": "nominal", "legend": null}}},
            {"data": {"name": "e5250"}, "mark": {"type": "rule", "color": "#6b0032", "strokeWidth": 3.5}, "encoding": {"x": {"field": "x1", "type": "quantitative"}, "x2": {"field": "x2"}, "y": {"field": "y1", "type": "quantitative"}, "y2": {"field": "y2"}}},
            {"data": {"name": "e6600"}, "mark": {"type": "rule", "color": "#b0004f", "strokeWidth": 3.5}, "encoding": {"x": {"field": "x1", "type": "quantitative"}, "x2": {"field": "x2"}, "y": {"field": "y1", "type": "quantitative"}, "y2": {"field": "y2"}}}
          ]
        }
      ]
    },
    {
      "width": 31, "height": 1509,
      "layer": [
        {"data": {"name": "cbar"},
         "mark": {"type": "rect", "fillOpacity": 0.45, "stroke": "#555555", "strokeWidth": 3, "strokeOpacity": 1,
                  "fill": {"gradient": "linear", "x1": 0, "y1": 1, "x2": 0, "y2": 0,
                           "stops": [{"offset": 0, "color": "#00007f"}, {"offset": 0.125, "color": "#0000ff"}, {"offset": 0.25, "color": "#0080ff"}, {"offset": 0.375, "color": "#14ffe2"},
                                     {"offset": 0.5, "color": "#7bff7b"}, {"offset": 0.625, "color": "#e1ff14"}, {"offset": 0.75, "color": "#ff9700"}, {"offset": 0.875, "color": "#ff2100"}, {"offset": 1, "color": "#800000"}]}},
         "encoding": {
           "x": {"datum": 0, "type": "quantitative", "scale": {"domain": [0, 1], "nice": false, "zero": false}, "axis": null},
           "x2": {"datum": 1},
           "y": {"field": "lo", "type": "quantitative", "scale": {"domain": [1181, 10055], "nice": false, "zero": false},
                 "axis": {"orient": "right", "values": [4000, 4500, 5000, 5500, 6000, 6500, 7000], "format": "d", "domain": false, "ticks": false, "grid": false, "labelPadding": 14, "labelFontSize": 32,
                          "title": "(Å)", "titleAngle": 0, "titleFontSize": 40, "titleAlign": "left", "titleBaseline": "middle", "titleX": 123, "titleY": 719}},
           "y2": {"field": "hi"}}},
        {"data": {"name": "cticks"}, "mark": {"type": "rule", "color": "#555555", "strokeWidth": 2.5},
         "encoding": {"x": {"datum": 0.72, "type": "quantitative"}, "x2": {"datum": 1}, "y": {"field": "w", "type": "quantitative"}}}
      ]
    }
  ]
}
